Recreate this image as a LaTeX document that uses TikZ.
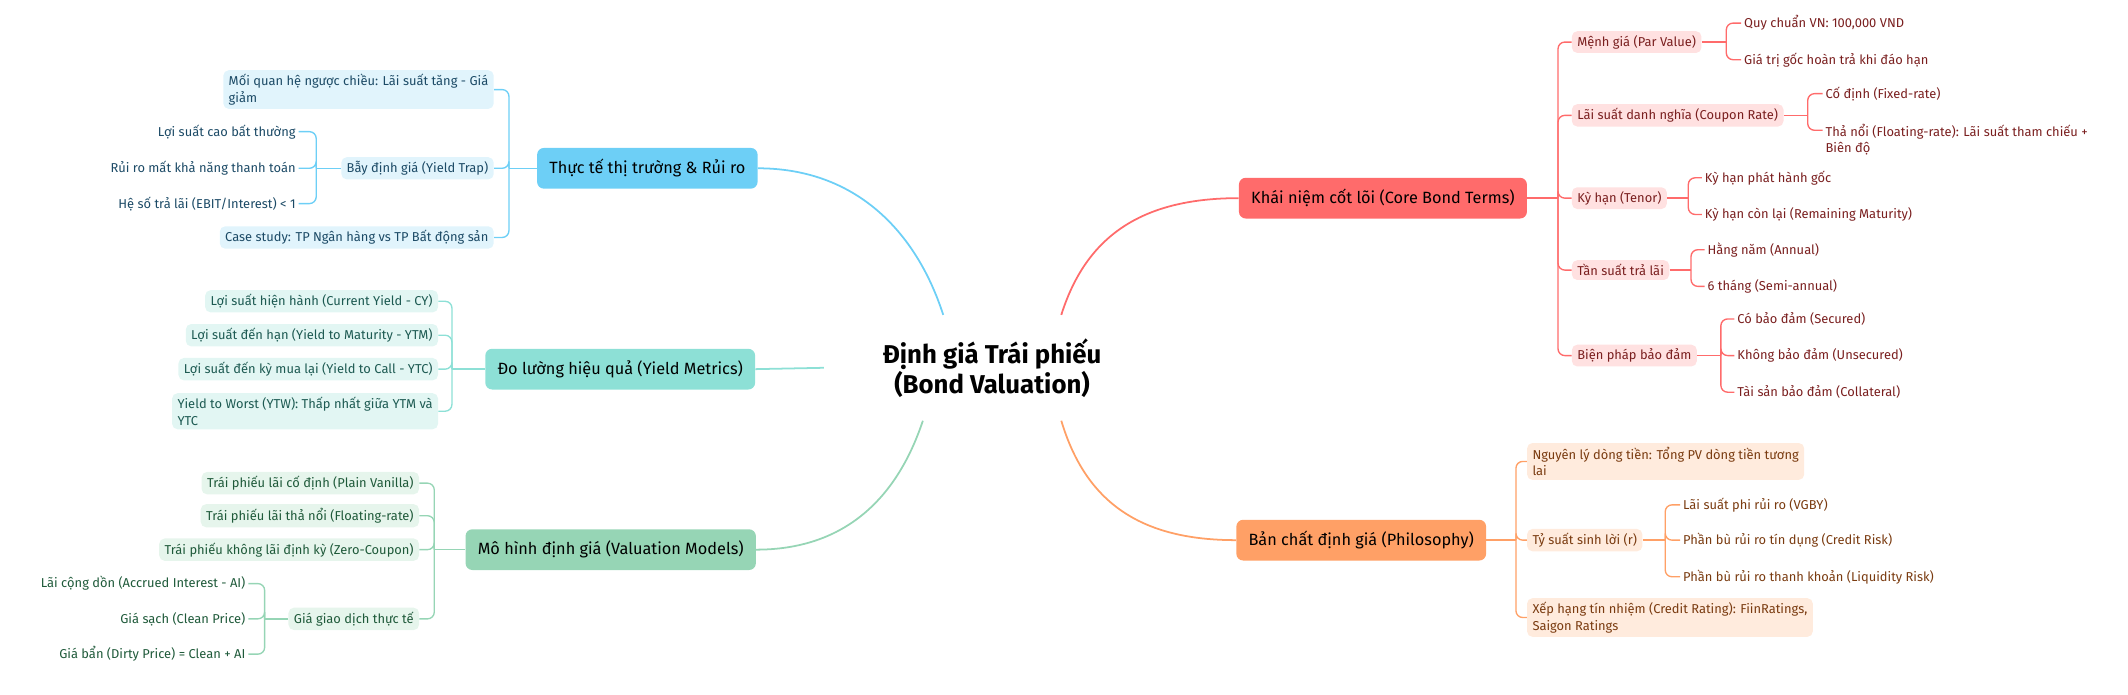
\documentclass[tikz,border=0pt]{standalone}
\usepackage{fontspec}
\setmainfont{Fira Sans}
\definecolor{cR}{HTML}{FF6B6B}\definecolor{cRl}{HTML}{FFE1E1}\definecolor{tR}{HTML}{7A1F1F}
\definecolor{cO}{HTML}{FFA066}\definecolor{cOl}{HTML}{FFEBDD}\definecolor{tO}{HTML}{7A3B10}
\definecolor{cB}{HTML}{6DCFF6}\definecolor{cBl}{HTML}{E1F4FC}\definecolor{tB}{HTML}{1C4A66}
\definecolor{cT}{HTML}{8DE0D6}\definecolor{cTl}{HTML}{E2F6F3}\definecolor{tT}{HTML}{1D5A52}
\definecolor{cG}{HTML}{96D5B5}\definecolor{cGl}{HTML}{E6F5EC}\definecolor{tG}{HTML}{1F5A3A}
\begin{document}
\begin{tikzpicture}[x=1pt,y=-1pt,
  mainbox/.style={rounded corners=5pt,inner xsep=9pt,minimum height=30pt,font=\fontsize{12}{14}\selectfont,text=black},
  sub/.style={rounded corners=4pt,inner xsep=4pt,inner ysep=3pt,font=\fontsize{9.5}{12}\selectfont,align=left},
  leaf/.style={inner sep=2pt,font=\fontsize{9.5}{12}\selectfont,align=left},
  ln/.style={line width=1pt},
  br/.style={line width=1pt,rounded corners=5pt}]
\useasboundingbox (0,0) rectangle (1568,512);
% root
\node[font=\fontsize{19}{22}\selectfont\bfseries,align=center] (root) at (731,271) {Định giá Trái phiếu\\(Bond Valuation)};
% main nodes
\node[mainbox,fill=cR] (k) at (1019,146) {Khái niệm cốt lõi (Core Bond Terms)};
\node[mainbox,fill=cO] (p) at (1003,398) {Bản chất định giá (Philosophy)};
\node[mainbox,fill=cB] (m) at (477,124) {Thực tế thị trường \& Rủi ro};
\node[mainbox,fill=cT] (y) at (457,272) {Đo lường hiệu quả (Yield Metrics)};
\node[mainbox,fill=cG] (v) at (450,405) {Mô hình định giá (Valuation Models)};
\coordinate (sk) at (782,232);\coordinate (sp) at (782,310);
\coordinate (sm) at (695,232);\coordinate (sy) at (607,271);\coordinate (sv) at (680,310);
\draw[ln,cR,line width=1.3pt] (sk) .. controls (800,175) and (840,146) .. (k.west);
\draw[ln,cO,line width=1.3pt] (sp) .. controls (800,370) and (840,398) .. (p.west);
\draw[ln,cB,line width=1.3pt] (sm) .. controls (675,170) and (630,124) .. (m.east);
\draw[ln,cT,line width=1.3pt] (sy) -- (y.east);
\draw[ln,cG,line width=1.3pt] (sv) .. controls (660,370) and (620,405) .. (v.east);
% ---------- right top (red)
\begin{scope}[every node/.append style={text=tR}]
\node[sub,fill=cRl,anchor=west] (k1) at (1158,31) {Mệnh giá (Par Value)};
\node[sub,fill=cRl,anchor=west] (k2) at (1158,85) {Lãi suất danh nghĩa (Coupon Rate)};
\node[sub,fill=cRl,anchor=west] (k3) at (1158,146) {Kỳ hạn (Tenor)};
\node[sub,fill=cRl,anchor=west] (k4) at (1158,199) {Tần suất trả lãi};
\node[sub,fill=cRl,anchor=west] (k5) at (1158,262) {Biện pháp bảo đảm};
\node[leaf,anchor=west] (k11) at (1283,17) {Quy chuẩn VN: 100,000 VND};
\node[leaf,anchor=west] (k12) at (1283,44) {Giá trị gốc hoàn trả khi đáo hạn};
\node[leaf,anchor=west] (k21) at (1343,69) {Cố định (Fixed-rate)};
\node[leaf,anchor=west] (k22) at (1343,103) {Thả nổi (Floating-rate): Lãi suất tham chiếu +\\Biên độ};
\node[leaf,anchor=west] (k31) at (1254,131) {Kỳ hạn phát hành gốc};
\node[leaf,anchor=west] (k32) at (1254,158) {Kỳ hạn còn lại (Remaining Maturity)};
\node[leaf,anchor=west] (k41) at (1256,184) {Hằng năm (Annual)};
\node[leaf,anchor=west] (k42) at (1256,211) {6 tháng (Semi-annual)};
\node[leaf,anchor=west] (k51) at (1278,235) {Có bảo đảm (Secured)};
\node[leaf,anchor=west] (k52) at (1278,262) {Không bảo đảm (Unsecured)};
\node[leaf,anchor=west] (k53) at (1278,289) {Tài sản bảo đảm (Collateral)};
\end{scope}
\begin{scope}[cR]
\draw[ln] (k.east) -- (1148,146);
\foreach \c in {k1,k2,k3,k4,k5} \draw[br] (1148,146) |- (\c.west);
\draw[ln] (k1.east) -- (1272,31); \foreach \c in {k11,k12} \draw[br] (1272,31) |- (\c.west);
\draw[ln] (k2.east) -- (1332,85); \draw[br] (1332,85) |- (k21.west); \draw[br] (1332,85) |- (1343,96);
\draw[ln] (k3.east) -- (1244,146); \foreach \c in {k31,k32} \draw[br] (1244,146) |- (\c.west);
\draw[ln] (k4.east) -- (1246,199); \foreach \c in {k41,k42} \draw[br] (1246,199) |- (\c.west);
\draw[ln] (k5.east) -- (1268,262); \foreach \c in {k51,k52,k53} \draw[br] (1268,262) |- (\c.west);
\end{scope}
% ---------- right bottom (orange)
\begin{scope}[every node/.append style={text=tO}]
\node[sub,fill=cOl,anchor=west] (p1) at (1125,340) {Nguyên lý dòng tiền: Tổng PV dòng tiền tương\\lai};
\node[sub,fill=cOl,anchor=west] (p2) at (1125,398) {Tỷ suất sinh lời (r)};
\node[sub,fill=cOl,anchor=west] (p3) at (1125,455) {Xếp hạng tín nhiệm (Credit Rating): FiinRatings,\\Saigon Ratings};
\node[leaf,anchor=west] (p21) at (1238,372) {Lãi suất phi rủi ro (VGBY)};
\node[leaf,anchor=west] (p22) at (1238,398) {Phần bù rủi ro tín dụng (Credit Risk)};
\node[leaf,anchor=west] (p23) at (1238,425) {Phần bù rủi ro thanh khoản (Liquidity Risk)};
\end{scope}
\begin{scope}[cO]
\draw[ln] (p.east) -- (1117,398);
\foreach \c in {p1,p2,p3} \draw[br] (1117,398) |- (\c.west);
\draw[ln] (p2.east) -- (1227,398); \foreach \c in {p21,p22,p23} \draw[br] (1227,398) |- (\c.west);
\end{scope}
% ---------- left top (blue)
\begin{scope}[every node/.append style={text=tB}]
\node[sub,fill=cBl,anchor=east] (m1) at (364,66) {Mối quan hệ ngược chiều: Lãi suất tăng - Giá\\giảm};
\node[sub,fill=cBl,anchor=east] (m2) at (364,124) {Bẫy định giá (Yield Trap)};
\node[sub,fill=cBl,anchor=east] (m3) at (364,175) {Case study: TP Ngân hàng vs TP Bất động sản};
\node[leaf,anchor=east,align=right] (m21) at (220,97) {Lợi suất cao bất thường};
\node[leaf,anchor=east,align=right] (m22) at (220,124) {Rủi ro mất khả năng thanh toán};
\node[leaf,anchor=east,align=right] (m23) at (220,150) {Hệ số trả lãi (EBIT/Interest) < 1};
\end{scope}
\begin{scope}[cB]
\draw[ln] (m.west) -- (375,124);
\foreach \c in {m1,m2,m3} \draw[br] (375,124) |- (\c.east);
\draw[ln] (m2.west) -- (233,124); \foreach \c in {m21,m22,m23} \draw[br] (233,124) |- (\c.east);
\end{scope}
% ---------- left middle (teal)
\begin{scope}[every node/.append style={text=tT}]
\node[sub,fill=cTl,anchor=east] (y1) at (323,222) {Lợi suất hiện hành (Current Yield - CY)};
\node[sub,fill=cTl,anchor=east] (y2) at (323,247) {Lợi suất đến hạn (Yield to Maturity - YTM)};
\node[sub,fill=cTl,anchor=east] (y3) at (323,272) {Lợi suất đến kỳ mua lại (Yield to Call - YTC)};
\node[sub,fill=cTl,anchor=east] (y4) at (323,303) {Yield to Worst (YTW): Thấp nhất giữa YTM và\\YTC};
\end{scope}
\begin{scope}[cT]
\draw[ln] (y.west) -- (333,272);
\foreach \c in {y1,y2,y3,y4} \draw[br] (333,272) |- (\c.east);
\end{scope}
% ---------- left bottom (green)
\begin{scope}[every node/.append style={text=tG}]
\node[sub,fill=cGl,anchor=east] (v1) at (309,356) {Trái phiếu lãi cố định (Plain Vanilla)};
\node[sub,fill=cGl,anchor=east] (v2) at (309,380) {Trái phiếu lãi thả nổi (Floating-rate)};
\node[sub,fill=cGl,anchor=east] (v3) at (309,405) {Trái phiếu không lãi định kỳ (Zero-Coupon)};
\node[sub,fill=cGl,anchor=east] (v4) at (309,456) {Giá giao dịch thực tế};
\node[leaf,anchor=east,align=right] (v41) at (183,430) {Lãi cộng dồn (Accrued Interest - AI)};
\node[leaf,anchor=east,align=right] (v42) at (183,456) {Giá sạch (Clean Price)};
\node[leaf,anchor=east,align=right] (v43) at (183,482) {Giá bẩn (Dirty Price) = Clean + AI};
\end{scope}
\begin{scope}[cG]
\draw[ln] (v.west) -- (320,405);
\foreach \c in {v1,v2,v3,v4} \draw[br] (320,405) |- (\c.east);
\draw[ln] (v4.west) -- (195,456); \foreach \c in {v41,v42,v43} \draw[br] (195,456) |- (\c.east);
\end{scope}
\end{tikzpicture}
\end{document}
